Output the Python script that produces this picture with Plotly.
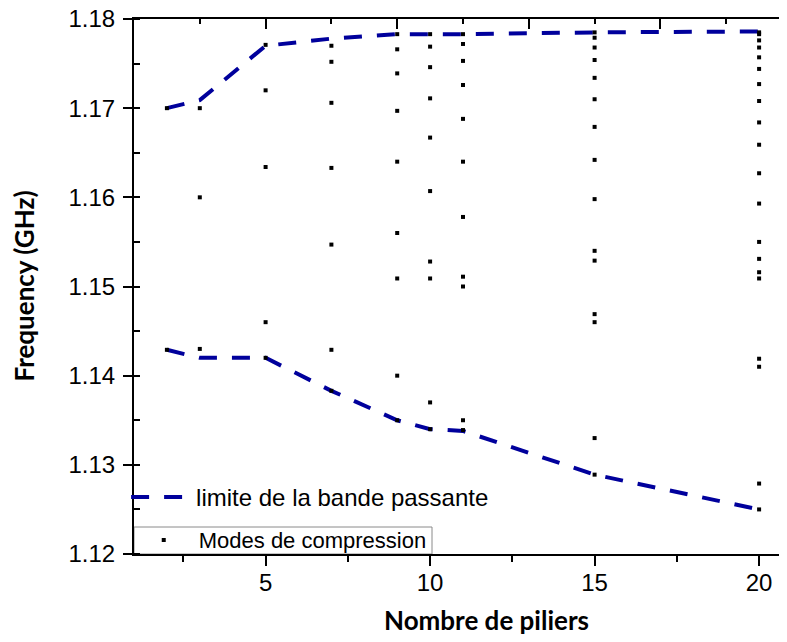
import plotly.graph_objects as go

# band limits (GHz) vs number of pillars
band_x = [2, 3, 5, 7, 9, 10, 11, 15, 20]
band_upper = [1.1700, 1.1709, 1.1770, 1.1778, 1.1783, 1.1783, 1.1783, 1.1785, 1.1786]
band_lower = [1.1429, 1.1420, 1.1420, 1.1383, 1.1350, 1.1340, 1.1338, 1.1289, 1.1250]

# compression modes, one list per pillar count
modes = {
    2: [1.1700, 1.1429],
    3: [1.1700, 1.1600, 1.1430],
    5: [1.1771, 1.1720, 1.1634, 1.1460, 1.1420],
    7: [1.1770, 1.1752, 1.1706, 1.1633, 1.1547, 1.1429, 1.1383],
    9: [1.1783, 1.1766, 1.1739, 1.1697, 1.1640, 1.1560, 1.1509, 1.1400, 1.1350],
    10: [1.1783, 1.1769, 1.1746, 1.1711, 1.1667, 1.1607, 1.1528, 1.1509, 1.1370, 1.1340],
    11: [1.1783, 1.1772, 1.1753, 1.1726, 1.1688, 1.1640, 1.1578, 1.1511, 1.1500,
         1.1350, 1.1339],
    15: [1.1785, 1.1779, 1.1768, 1.1754, 1.1734, 1.1710, 1.1679, 1.1642, 1.1598,
         1.1540, 1.1529, 1.1469, 1.1460, 1.1330, 1.1289],
    20: [1.1785, 1.1783, 1.1776, 1.1768, 1.1757, 1.1744, 1.1727, 1.1708, 1.1684,
         1.1659, 1.1627, 1.1593, 1.1550, 1.1531, 1.1516, 1.1509, 1.1419, 1.1410,
         1.1279, 1.1250],
}

x_ticks = [5, 10, 15, 20]
y_ticks = [1.12, 1.13, 1.14, 1.15, 1.16, 1.17, 1.18]
y_tick_text = ["1.12", "1.13", "1.14", "1.15", "1.16", "1.17", "1.18"]

mode_x = [n for n, fs in modes.items() for _ in fs]
mode_y = [f for fs in modes.values() for f in fs]

BLUE = "#00009c"
SANS = "Liberation Sans, Arial"
TICK_FONT = dict(family=SANS, size=24, color="black")
TITLE_FONT = dict(family="Lato", size=26, color="black")

fig = go.Figure()

fig.add_trace(go.Scatter(
    x=band_x, y=band_upper, mode="lines", name="limite de la bande passante",
    line=dict(color=BLUE, width=4, dash="18px,15px"), legend="legend",
))
fig.add_trace(go.Scatter(
    x=band_x, y=band_lower, mode="lines", showlegend=False,
    line=dict(color=BLUE, width=4, dash="18px,15px"),
))
fig.add_trace(go.Scatter(
    x=mode_x, y=mode_y, mode="markers", name="Modes de compression",
    marker=dict(symbol="square", size=4, color="black", line=dict(width=0)),
    legend="legend2",
))
# dummy trace so the top and right frame axes get drawn
fig.add_trace(go.Scatter(
    x=[band_x[0]], y=[0], xaxis="x2", yaxis="y2", mode="markers",
    marker=dict(opacity=0), showlegend=False, hoverinfo="skip",
))

frame = dict(showgrid=False, zeroline=False, automargin=False,
             showline=True, linecolor="black", linewidth=2,
             tickwidth=2, tickcolor="black", showticklabels=False)

fig.update_layout(
    width=787, height=642,
    # page body adds 8px, so the plot area lands at 134..792 x 19..554
    margin=dict(l=126, r=3, t=11, b=96),
    paper_bgcolor="white", plot_bgcolor="white",
    font=TICK_FONT,
    xaxis=dict(
        range=[1, 21], showgrid=False, zeroline=False, automargin=False,
        showline=True, linecolor="black", linewidth=2,
        tickmode="array", tickvals=x_ticks,
        ticks="outside", ticklen=10, tickwidth=2, tickcolor="black",
        minor=dict(tickmode="array", tickvals=[2.5, 7.5, 12.5, 17.5],
                   ticks="outside", ticklen=6, tickwidth=2, tickcolor="black"),
        tickfont=TICK_FONT, ticklabelstandoff=-4,
    ),
    xaxis2=dict(
        frame, overlaying="x", side="top", anchor="y2", range=[1, 21],
        tickmode="linear", tick0=1, dtick=4, ticks="inside", ticklen=10,
        minor=dict(tick0=1, dtick=2, ticks="inside", ticklen=5, tickwidth=2,
                   tickcolor="black"),
    ),
    yaxis=dict(
        range=[1.12, 1.18], showgrid=False, zeroline=False, automargin=False,
        showline=True, linecolor="black", linewidth=2,
        tickmode="array", tickvals=y_ticks, ticktext=y_tick_text,
        ticks="outside", ticklen=9, tickwidth=2, tickcolor="black",
        minor=dict(tick0=1.12, dtick=0.005, ticks="inside", ticklen=6,
                   tickwidth=2, tickcolor="black"),
        tickfont=TICK_FONT, ticklabelstandoff=3, ticklabeloverflow="allow",
    ),
    yaxis2=dict(
        frame, overlaying="y", side="right", anchor="x2", range=[0, 5],
        tickmode="linear", tick0=0, dtick=1, ticks="inside", ticklen=10,
        minor=dict(tick0=0, dtick=0.5, ticks="inside", ticklen=5, tickwidth=2,
                   tickcolor="#bbbbbb"),
    ),
    legend=dict(
        x=-0.012, y=0.106, xanchor="left", yanchor="middle", itemwidth=60,
        bgcolor="rgba(0,0,0,0)", borderwidth=0,
        font=dict(family=SANS, size=24, color="black"),
    ),
    legend2=dict(
        x=-0.008, y=0.026, xanchor="left", yanchor="middle", itemwidth=60,
        bgcolor="rgba(0,0,0,0)", borderwidth=0,
        font=dict(family=SANS, size=22, color="black"),
    ),
    shapes=[dict(
        type="rect", xref="paper", yref="paper",
        x0=0, x1=(432 - 134) / 658, y0=0, y1=27 / 535,
        line=dict(color="#8a8a8a", width=1), fillcolor="white", layer="below",
    )],
    annotations=[
        dict(
            text="<b>Nombre de piliers</b>", xref="paper", yref="paper",
            x=0.5, y=0, xanchor="center", yanchor="middle", yshift=-66,
            xshift=23, showarrow=False, font=TITLE_FONT,
        ),
        dict(
            text="<b>Frequency (GHz)</b>", xref="paper", yref="paper",
            x=0, y=0.5, xanchor="center", yanchor="middle", xshift=-111,
            textangle=-90, showarrow=False, font=TITLE_FONT,
        ),
    ],
)

fig.write_html("out.html")
